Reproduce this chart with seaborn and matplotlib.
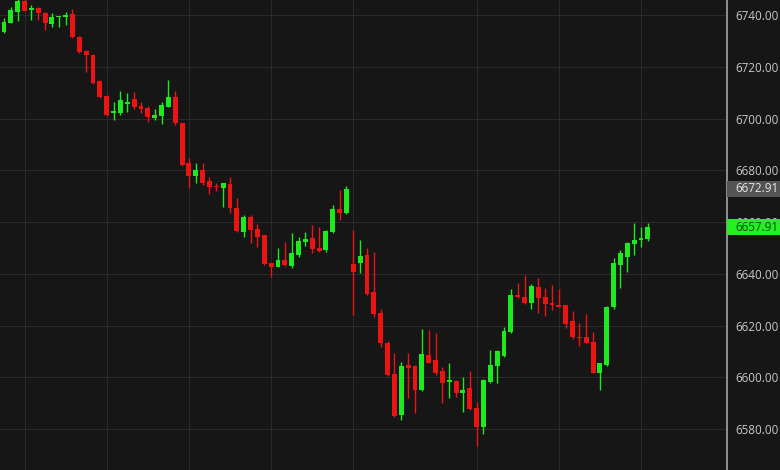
import numpy as np
import pandas as pd
import seaborn as sns
from matplotlib import pyplot as plt
from matplotlib import transforms
from matplotlib.patches import Rectangle

# candle data (one candle per slot)
opens = [6733.3, 6737.0, 6741.3, 6745.5, 6741.9, 6742.6, 6740.9, 6736.5, 6739.1, 6739.3,
         6740.4, 6731.6, 6726.1, 6724.5, 6714.5, 6708.8, 6702.1, 6702.0, 6705.6, 6707.4,
         6704.8, 6703.9, 6700.1, 6701.0, 6704.6, 6708.2, 6698.1, 6682.7, 6677.8, 6680.1,
         6675.8, 6673.9, 6673.0, 6674.7, 6665.3, 6656.3, 6661.8, 6657.2, 6655.0, 6644.0,
         6642.7, 6645.3, 6643.0, 6647.2, 6652.3, 6653.7, 6649.8, 6649.2, 6656.3, 6664.9,
         6663.4, 6643.8, 6644.3, 6647.2, 6633.1, 6624.7, 6613.4, 6601.3, 6585.4, 6604.7,
         6604.4, 6595.1, 6608.6, 6606.7, 6602.5, 6598.2, 6598.7, 6594.0, 6595.7, 6588.0,
         6580.9, 6598.3, 6604.4, 6608.2, 6617.6, 6631.8, 6631.1, 6628.6, 6635.0, 6630.9,
         6628.8, 6627.9, 6627.9, 6621.9, 6615.7, 6615.7, 6613.7, 6601.8, 6604.7, 6627.0,
         6643.4, 6646.6, 6651.5, 6653.0, 6653.3]
highs = [6738.8, 6743.2, 6747.0, 6747.0, 6743.9, 6743.2, 6741.3, 6740.7, 6739.7, 6741.3,
         6742.2, 6731.8, 6726.3, 6724.8, 6714.8, 6709.0, 6706.5, 6710.7, 6709.7, 6710.4,
         6706.5, 6704.8, 6703.6, 6706.5, 6714.9, 6710.7, 6698.3, 6684.6, 6682.7, 6682.7,
         6677.5, 6675.2, 6675.2, 6677.5, 6669.2, 6662.7, 6662.7, 6659.2, 6655.1, 6644.3,
         6649.8, 6652.4, 6655.6, 6654.3, 6656.3, 6658.8, 6658.0, 6657.0, 6666.6, 6672.4,
         6673.9, 6656.9, 6653.0, 6649.8, 6648.5, 6626.6, 6614.0, 6609.3, 6606.0, 6609.3,
         6604.7, 6618.5, 6618.3, 6617.0, 6604.1, 6605.6, 6599.0, 6600.2, 6602.5, 6590.6,
         6599.2, 6610.5, 6610.5, 6619.5, 6634.0, 6636.5, 6639.5, 6636.0, 6638.2, 6634.4,
         6635.7, 6634.0, 6628.0, 6625.7, 6621.1, 6624.4, 6617.6, 6605.6, 6627.6, 6646.0,
         6649.2, 6652.4, 6659.7, 6658.0, 6659.7]
lows = [6733.0, 6736.9, 6737.8, 6741.5, 6738.1, 6738.1, 6734.2, 6735.5, 6735.2, 6736.1,
        6731.1, 6725.4, 6718.1, 6713.5, 6708.1, 6701.0, 6699.4, 6701.4, 6702.6, 6703.6,
        6702.0, 6698.8, 6699.4, 6697.9, 6704.3, 6697.5, 6681.6, 6673.0, 6675.0, 6674.3,
        6670.8, 6672.1, 6665.9, 6663.4, 6656.3, 6654.3, 6651.8, 6650.5, 6643.4, 6638.9,
        6642.5, 6643.0, 6642.1, 6646.4, 6650.7, 6647.9, 6648.5, 6648.4, 6655.6, 6660.8,
        6663.0, 6624.1, 6640.4, 6631.8, 6623.2, 6611.8, 6600.4, 6584.5, 6583.5, 6591.9,
        6586.1, 6594.8, 6605.4, 6600.9, 6590.0, 6591.9, 6592.5, 6586.7, 6587.3, 6573.4,
        6578.3, 6597.7, 6597.7, 6607.9, 6617.2, 6630.5, 6628.3, 6626.3, 6624.7, 6623.7,
        6626.0, 6627.0, 6618.9, 6615.0, 6612.1, 6613.1, 6601.5, 6595.3, 6604.3, 6626.6,
        6634.4, 6640.8, 6647.2, 6650.2, 6652.8]
closes = [6737.4, 6741.9, 6745.5, 6741.7, 6742.6, 6740.7, 6737.0, 6739.3, 6739.7, 6740.1,
          6731.4, 6725.6, 6724.4, 6713.8, 6708.4, 6701.4, 6702.9, 6707.1, 6706.3, 6704.3,
          6703.6, 6700.5, 6701.4, 6705.2, 6708.2, 6698.1, 6682.0, 6677.8, 6680.1, 6675.0,
          6673.4, 6673.4, 6675.0, 6665.3, 6656.6, 6661.8, 6656.9, 6654.3, 6643.8, 6642.5,
          6645.3, 6643.4, 6647.9, 6652.8, 6653.3, 6649.4, 6648.9, 6656.6, 6664.9, 6663.4,
          6672.91, 6640.8, 6646.9, 6632.2, 6624.4, 6613.4, 6600.9, 6585.0, 6604.4, 6603.8,
          6595.1, 6609.0, 6605.6, 6601.8, 6597.7, 6598.7, 6594.0, 6595.3, 6587.6, 6580.9,
          6598.9, 6604.7, 6610.3, 6618.0, 6631.8, 6630.9, 6628.6, 6635.3, 6630.5, 6628.3,
          6627.9, 6627.3, 6620.6, 6615.4, 6615.1, 6613.4, 6601.8, 6605.4, 6627.3, 6644.0,
          6647.9, 6651.8, 6653.0, 6653.7, 6657.91]

price_ticks = [6580, 6600, 6620, 6640, 6660, 6680, 6700, 6720, 6740]
time_grid = [3, 15, 27, 39, 51, 69, 81, 93]
prev_close = 6672.91
last_price = 6657.91

bg = '#161616'
up_col = '#1ee81e'
down_col = '#ec1313'

sns.set_theme(style='darkgrid', rc={
    'axes.facecolor': bg, 'figure.facecolor': bg,
    'grid.color': '#2a2a2a', 'grid.linewidth': 0.75,
})
plt.rcParams['font.family'] = ['Open Sans', 'DejaVu Sans']

df = pd.DataFrame({'o': opens, 'h': highs, 'l': lows, 'c': closes})
df['i'] = np.arange(len(df))
df['up'] = df['c'] >= df['o']
df['col'] = np.where(df['up'], up_col, down_col)
df['bot'] = df[['o', 'c']].min(axis=1)
df['hgt'] = (df['c'] - df['o']).abs().clip(lower=0.6)

fig = plt.figure(figsize=(7.8, 4.7), dpi=100)
ax = fig.add_axes([0, 0, 727 / 780, 1])

ax.vlines(df['i'], df['l'], df['h'], colors=df['col'], lw=1.0, zorder=3)
ax.bar(df['i'], df['hgt'], bottom=df['bot'], width=0.72, color=df['col'],
       linewidth=0, zorder=4)

ax.set_xlim(-0.58, 105.55)
ax.set_ylim(6564.2, 6745.8)
ax.set_xticks(time_grid)
ax.set_xticklabels([])
ax.set_yticks(price_ticks)
ax.set_yticklabels([f'{v:.2f}' for v in price_ticks])
ax.yaxis.tick_right()
ax.tick_params(axis='y', length=0, pad=5.8, labelsize=8.4, labelcolor='#c8c8c8')
ax.tick_params(axis='x', length=0)
ax.grid(True, zorder=0)

for s in ['left', 'top', 'bottom']:
    ax.spines[s].set_visible(False)
ax.spines['right'].set_color('#9a9a9a')
ax.spines['right'].set_linewidth(1.3)

# price tags on the right axis
trans = transforms.blended_transform_factory(ax.transAxes, ax.transData)
tag_h = 16 / 2.5875
for val, fc, tc in [(prev_close, '#545454', '#e8e8e8'), (last_price, '#22f022', '#0b4a0b')]:
    ax.add_patch(Rectangle((1.0, val - tag_h / 2), 0.09, tag_h, transform=trans,
                           facecolor=fc, edgecolor='none', clip_on=False, zorder=6))
    ax.annotate(f'{val:.2f}', xy=(1.0, val), xycoords=trans, xytext=(5.8, 0),
                textcoords='offset points', ha='left', va='center',
                fontsize=8.4, color=tc, zorder=7, annotation_clip=False)

fig.savefig('out.png', dpi=100, facecolor=bg)
